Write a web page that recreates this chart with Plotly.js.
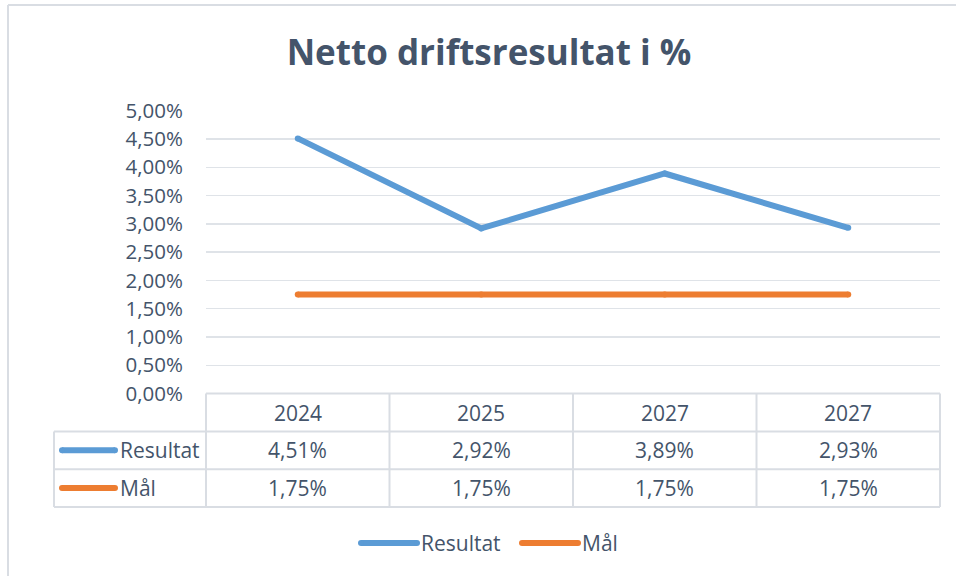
<!DOCTYPE html>
<html>
<head>
<meta charset="utf-8">
<script src="https://cdn.plot.ly/plotly-3.0.1.min.js"></script>
<style>html,body{margin:0;padding:0;background:#fff;}#chart{width:956px;height:576px;}</style>
</head>
<body>
<div id="chart"></div>
<script>
// ---- data ----
const categories = ['2024', '2025', '2027', '2027'];
const resultat = [0.0451, 0.0292, 0.0389, 0.0293];
const maal = [0.0175, 0.0175, 0.0175, 0.0175];
const seriesNames = ['Resultat', 'Mål'];
const yTickVals = [0, 0.005, 0.01, 0.015, 0.02, 0.025, 0.03, 0.035, 0.04, 0.045, 0.05];

// ---- layout geometry (pixels) ----
const W = 956, H = 576;
const plotL = 206, plotR = 940, plotT = 110.7, plotB = 393.6;
const rowH = 37.8;
const labelColL = 54;
const px = x => x / W;
const py = y => 1 - y / H;

const textColor = '#44546a';
const gridColor = '#dfe3e8';
const tableColor = '#d9dde3';
const colors = ['#5b9bd5', '#ed7d31'];
const font = 'Open Sans, Noto Sans, sans-serif';
const bodySize = 21;

const fmt = v => (v * 100).toFixed(2).replace('.', ',') + '%';

const idx = categories.map((c, i) => i);
const traces = [resultat, maal].map((vals, k) => ({
  x: idx, y: vals, type: 'scatter', mode: 'lines+markers', name: seriesNames[k],
  line: {color: colors[k], width: 6},
  marker: {color: colors[k], size: 6},
  hoverinfo: 'skip', showlegend: false, cliponaxis: false
}));

const shapes = [];
const annotations = [];
const line = (x0, y0, x1, y1, color, width) => shapes.push({
  type: 'line', xref: 'paper', yref: 'paper',
  x0: px(x0), y0: py(y0), x1: px(x1), y1: py(y1),
  line: {color: color, width: width}
});
const dot = (x, y, color, r) => shapes.push({
  type: 'circle', xref: 'paper', yref: 'paper',
  x0: px(x - r), x1: px(x + r), y0: py(y - r), y1: py(y + r),
  fillcolor: color, line: {width: 0}
});
const keyLine = (x0, x1, y, color) => { line(x0, y, x1, y, color, 6); dot(x0, y, color, 3); dot(x1, y, color, 3); };

// outer chart border
line(8, 5, 956, 5, tableColor, 2);
line(8, 5, 8, 576, tableColor, 2);

// data table grid
const nRows = 1 + seriesNames.length;
const colW = (plotR - plotL) / categories.length;
for (let r = 0; r <= nRows; r++) {
  const y = plotB + r * rowH;
  line(r === 0 ? plotL : labelColL, y, plotR, y, tableColor, 2);
}
for (let c = 0; c <= categories.length; c++) {
  const x = plotL + c * colW;
  line(x, plotB, x, plotB + nRows * rowH, tableColor, 2);
}
line(labelColL, plotB + rowH, labelColL, plotB + nRows * rowH, tableColor, 2);

// header row
categories.forEach((c, i) => annotations.push({
  x: i, xref: 'x', y: py(plotB + rowH / 2), yref: 'paper',
  text: c, showarrow: false, xanchor: 'center', yanchor: 'middle',
  font: {family: font, size: bodySize, color: textColor}
}));
// series rows
[resultat, maal].forEach((vals, k) => {
  const yc = plotB + rowH * (k + 1.5);
  keyLine(62, 115, yc, colors[k]);
  annotations.push({
    x: px(118), xref: 'paper', y: py(yc), yref: 'paper',
    text: seriesNames[k], showarrow: false, xanchor: 'left', yanchor: 'middle',
    font: {family: font, size: bodySize, color: textColor}
  });
  vals.forEach((v, i) => annotations.push({
    x: i, xref: 'x', y: py(yc), yref: 'paper',
    text: fmt(v), showarrow: false, xanchor: 'center', yanchor: 'middle',
    font: {family: font, size: bodySize, color: textColor}
  }));
});

// bottom legend
const legY = 543;
const legItems = [{x0: 361, x1: 417, tx: 419}, {x0: 522, x1: 578, tx: 580}];
legItems.forEach((it, k) => {
  keyLine(it.x0, it.x1, legY, colors[k]);
  annotations.push({
    x: px(it.tx), xref: 'paper', y: py(legY), yref: 'paper',
    text: seriesNames[k], showarrow: false, xanchor: 'left', yanchor: 'middle',
    font: {family: font, size: bodySize, color: textColor}
  });
});

const layout = {
  width: W, height: H,
  margin: {l: 0, r: 0, t: 0, b: 0},
  paper_bgcolor: '#ffffff', plot_bgcolor: '#ffffff',
  separators: ', ',
  showlegend: false,
  title: {
    text: '<b>Netto driftsresultat i %</b>',
    x: px(489), xanchor: 'center', xref: 'paper',
    y: py(53), yanchor: 'middle', yref: 'paper',
    font: {family: font, size: 35, color: textColor}
  },
  xaxis: {
    domain: [px(plotL), px(plotR)],
    range: [-0.5, categories.length - 0.5],
    showgrid: false, zeroline: false, showticklabels: false, showline: false, fixedrange: true
  },
  yaxis: {
    domain: [py(plotB), py(plotT)],
    range: [0, 0.05],
    tickvals: yTickVals, tickformat: '.2%',
    showgrid: true, gridcolor: gridColor, gridwidth: 1.5,
    zeroline: false, showline: false, ticks: '',
    ticklabelstandoff: 22,
    tickfont: {family: font, size: 20.5, color: textColor}, fixedrange: true
  },
  shapes: shapes,
  annotations: annotations
};

Plotly.newPlot('chart', traces, layout, {displayModeBar: false, staticPlot: true});
</script>
</body>
</html>
